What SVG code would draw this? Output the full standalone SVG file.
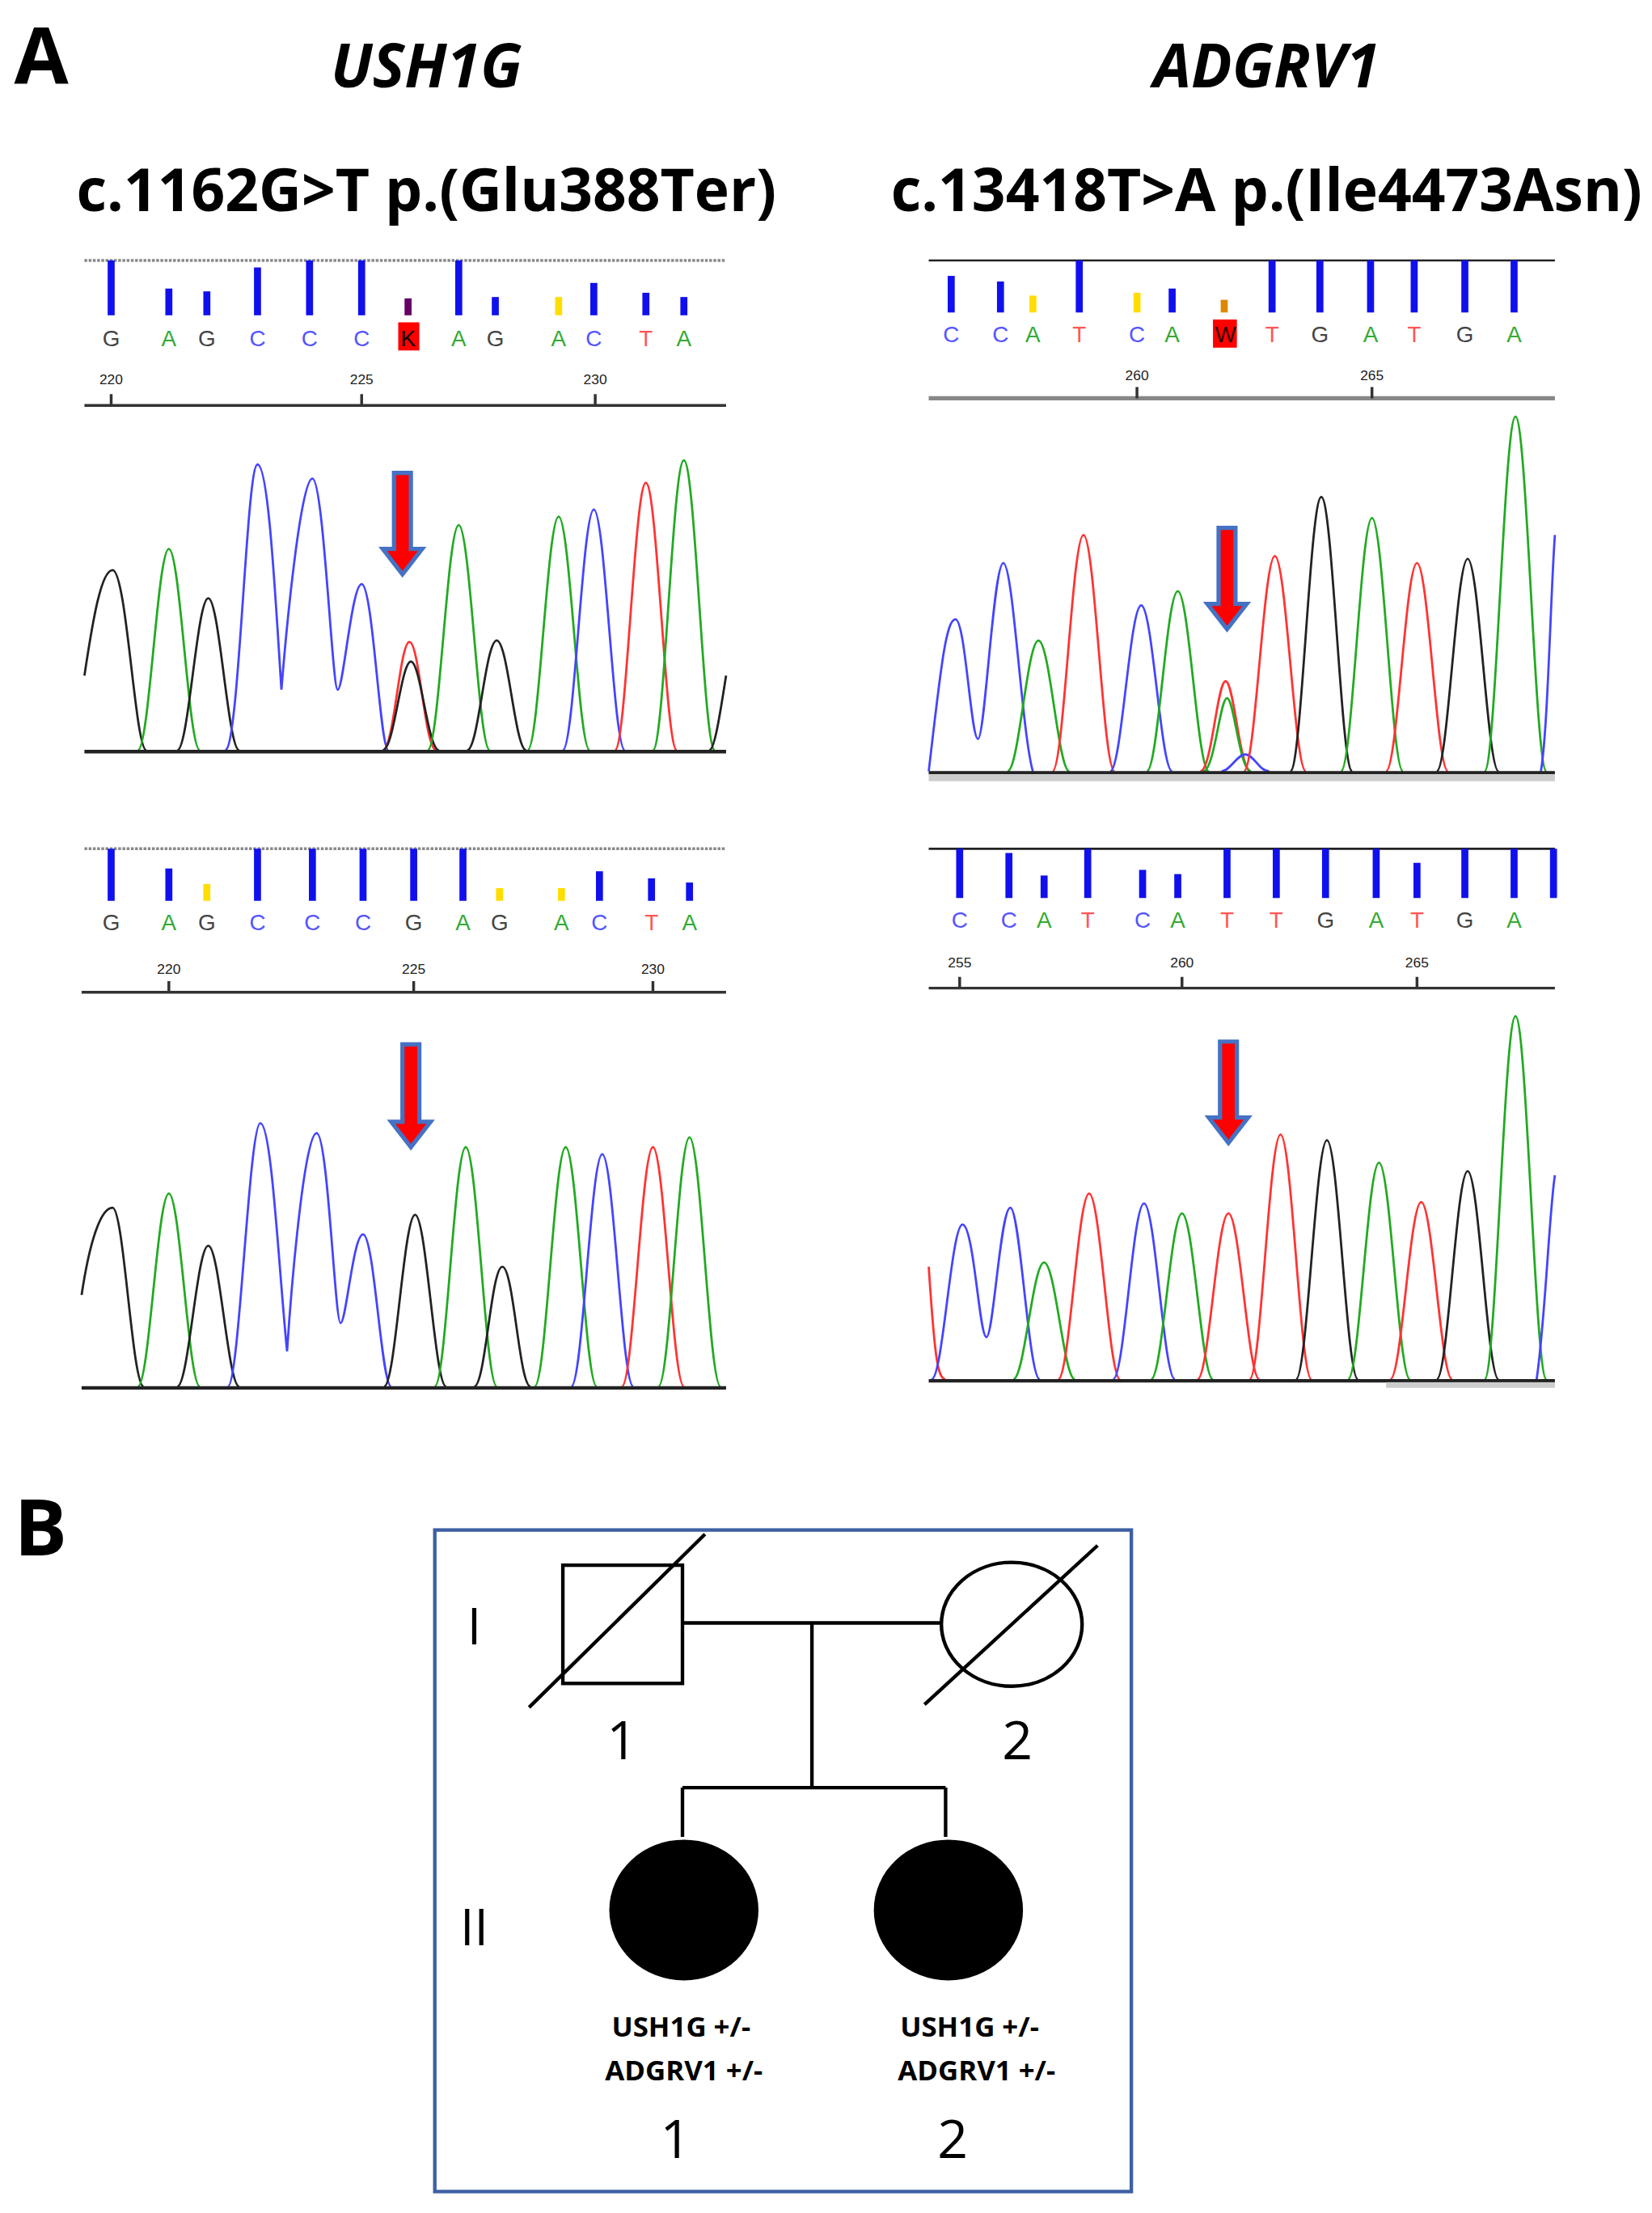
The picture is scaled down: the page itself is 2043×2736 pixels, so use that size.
<svg xmlns="http://www.w3.org/2000/svg" width="2043" height="2736" viewBox="0 0 2043 2736">
<style>
.t{font-family:"Open Sans","Liberation Sans",sans-serif}
.b{stroke:#1010ee;stroke-width:5}
.l{font-family:"Liberation Sans",sans-serif;font-size:16px;text-anchor:middle}
.n{font-family:"Liberation Sans",sans-serif;font-size:10px;text-anchor:middle;fill:#222}
.G{fill:#444}.A{fill:#3a3}.C{fill:#55f}.T{fill:#f55}
.pk{fill:none;stroke-width:1.6}
.k{stroke:#222}.g{stroke:#2a2}.u{stroke:#44f}.r{stroke:#f33}
.ar{fill:#f00;stroke:#4472c4;stroke-width:3}
.ax{stroke:#333;stroke-width:2;fill:none}
</style>
<rect width="2043" height="2736" fill="#fff"/>
<g transform="scale(1.7402)">
<g id="labels" class="t" font-weight="bold">
<text x="10" y="60" font-size="56">A</text>
<text x="10" y="1105" font-size="56">B</text>
<text x="303" y="62" font-size="43" font-style="italic" text-anchor="middle">USH1G</text>
<text x="900" y="62" font-size="43" font-style="italic" text-anchor="middle">ADGRV1</text>
<text x="303" y="150" font-size="42" text-anchor="middle">c.1162G&gt;T p.(Glu388Ter)</text>
<text x="900" y="150" font-size="42" text-anchor="middle">c.13418T&gt;A p.(Ile4473Asn)</text>
</g>
<!-- top-left -->
<g id="tl">
<line x1="60" y1="185" x2="516" y2="185" stroke="#888" stroke-width="2" stroke-dasharray="2 1"/>
<g class="b"><line x1="79" y1="185" x2="79" y2="224"/><line x1="120" y1="205" x2="120" y2="224"/><line x1="147" y1="207" x2="147" y2="224"/><line x1="183" y1="190" x2="183" y2="224"/><line x1="220" y1="185" x2="220" y2="224"/><line x1="257" y1="185" x2="257" y2="224"/><line x1="290" y1="212" x2="290" y2="224" stroke="#606"/><line x1="326" y1="185" x2="326" y2="224"/><line x1="352" y1="211" x2="352" y2="224"/><line x1="397" y1="211" x2="397" y2="224" stroke="#fd0"/><line x1="422" y1="201" x2="422" y2="224"/><line x1="459" y1="208" x2="459" y2="224"/><line x1="486" y1="211" x2="486" y2="224"/></g>
<rect x="283" y="229" width="15" height="20" fill="#f00"/>
<g class="l"><text x="79" y="246" class="G">G</text><text x="120" y="246" class="A">A</text><text x="147" y="246" class="G">G</text><text x="183" y="246" class="C">C</text><text x="220" y="246" class="C">C</text><text x="257" y="246" class="C">C</text><text x="290" y="246" fill="#000">K</text><text x="326" y="246" class="A">A</text><text x="352" y="246" class="G">G</text><text x="397" y="246" class="A">A</text><text x="422" y="246" class="C">C</text><text x="459" y="246" class="T">T</text><text x="486" y="246" class="A">A</text></g>
<g class="n"><text x="79" y="273">220</text><text x="257" y="273">225</text><text x="423" y="273">230</text></g>
<path class="ax" d="M60 288H516M79 280V288M257 280V288M423 280V288"/>
<g>
<path class="pk k" d="M60 480C66 440 72 405 80 405C90 405 96 533 104 533"/>
<path class="pk g" d="M98 533C106 533 112 390 120 390C128 390 134 533 142 533"/>
<path class="pk k" d="M126 533C134 533 140 425 148 425C156 425 162 533 170 533"/>
<path class="pk u" d="M160 533C170 533 175 330 183 330C191 330 196 430 200 490C204 440 214 340 222 340C230 340 236 490 240 490C244 490 250 415 257 415C265 415 270 533 276 533"/>
<path class="pk r" d="M272 533C280 533 284 456 291 456C298 456 302 533 310 533"/>
<path class="pk k" d="M272 533C280 533 285 470 292 470C299 470 304 533 312 533"/>
<path class="pk g" d="M304 533C312 533 318 373 326 373C334 373 340 533 348 533"/>
<path class="pk k" d="M332 533C340 533 345 455 353 455C361 455 366 533 374 533"/>
<path class="pk g" d="M375 533C383 533 389 367 397 367C405 367 411 533 419 533"/>
<path class="pk u" d="M400 533C408 533 414 362 422 362C430 362 436 533 444 533"/>
<path class="pk r" d="M437 533C445 533 451 343 459 343C467 343 473 533 481 533"/>
<path class="pk g" d="M464 533C472 533 478 327 486 327C494 327 500 533 508 533"/>
<path class="pk k" d="M504 533C508 533 512 505 516 480"/>
<line x1="60" y1="534" x2="516" y2="534" stroke="#222" stroke-width="2.5"/>
</g>
<polygon class="ar" points="280,336 292,336 292,390 300,390 286,408 272,390 280,390"/>
</g>
<!-- bottom-left -->
<g id="bl">
<line x1="60" y1="603" x2="516" y2="603" stroke="#888" stroke-width="2" stroke-dasharray="2 1"/>
<g class="b"><line x1="79" y1="603" x2="79" y2="640"/><line x1="120" y1="617" x2="120" y2="640"/><line x1="147" y1="628" x2="147" y2="640" stroke="#fd0"/><line x1="183" y1="603" x2="183" y2="640"/><line x1="222" y1="603" x2="222" y2="640"/><line x1="258" y1="603" x2="258" y2="640"/><line x1="294" y1="603" x2="294" y2="640"/><line x1="329" y1="603" x2="329" y2="640"/><line x1="355" y1="631" x2="355" y2="640" stroke="#fd0"/><line x1="399" y1="631" x2="399" y2="640" stroke="#fd0"/><line x1="426" y1="619" x2="426" y2="640"/><line x1="463" y1="624" x2="463" y2="640"/><line x1="490" y1="627" x2="490" y2="640"/></g>
<g class="l"><text x="79" y="661" class="G">G</text><text x="120" y="661" class="A">A</text><text x="147" y="661" class="G">G</text><text x="183" y="661" class="C">C</text><text x="222" y="661" class="C">C</text><text x="258" y="661" class="C">C</text><text x="294" y="661" class="G">G</text><text x="329" y="661" class="A">A</text><text x="355" y="661" class="G">G</text><text x="399" y="661" class="A">A</text><text x="426" y="661" class="C">C</text><text x="463" y="661" class="T">T</text><text x="490" y="661" class="A">A</text></g>
<g class="n"><text x="120" y="692">220</text><text x="294" y="692">225</text><text x="464" y="692">230</text></g>
<path class="ax" d="M58 705H516M120 697V705M294 697V705M464 697V705"/>
<g>
<path class="pk k" d="M58 920C64 880 72 858 80 858C88 858 94 985 102 985"/>
<path class="pk g" d="M98 985C106 985 112 848 120 848C128 848 134 985 142 985"/>
<path class="pk k" d="M126 985C134 985 140 885 148 885C156 885 162 985 170 985"/>
<path class="pk u" d="M162 985C170 985 177 798 185 798C193 798 198 900 204 960C208 900 217 805 225 805C233 805 238 940 242 940C246 940 251 877 258 877C266 877 271 985 278 985"/>
<path class="pk k" d="M273 985C281 985 287 863 295 863C303 863 309 985 317 985"/>
<path class="pk g" d="M309 985C317 985 323 815 331 815C339 815 345 985 353 985"/>
<path class="pk k" d="M337 985C345 985 349 900 357 900C365 900 369 985 377 985"/>
<path class="pk g" d="M380 985C388 985 394 815 402 815C410 815 416 985 424 985"/>
<path class="pk u" d="M406 985C414 985 420 820 428 820C436 820 442 985 450 985"/>
<path class="pk r" d="M442 985C450 985 456 815 464 815C472 815 478 985 486 985"/>
<path class="pk g" d="M468 985C476 985 482 808 490 808C498 808 504 985 512 985"/>
<line x1="58" y1="986" x2="516" y2="986" stroke="#222" stroke-width="2.5"/>
</g>
<polygon class="ar" points="286,742 298,742 298,797 306,797 292,815 278,797 286,797"/>
</g>
<!-- top-right -->
<g id="tr">
<line x1="660" y1="185" x2="1105" y2="185" stroke="#222" stroke-width="1.5"/>
<g class="b"><line x1="676" y1="196" x2="676" y2="222"/><line x1="711" y1="200" x2="711" y2="222"/><line x1="734" y1="210" x2="734" y2="222" stroke="#fd0"/><line x1="767" y1="185" x2="767" y2="222"/><line x1="808" y1="208" x2="808" y2="222" stroke="#fd0"/><line x1="833" y1="205" x2="833" y2="222"/><line x1="870" y1="213" x2="870" y2="222" stroke="#d80"/><line x1="904" y1="185" x2="904" y2="222"/><line x1="938" y1="185" x2="938" y2="222"/><line x1="974" y1="185" x2="974" y2="222"/><line x1="1005" y1="185" x2="1005" y2="222"/><line x1="1041" y1="185" x2="1041" y2="222"/><line x1="1076" y1="185" x2="1076" y2="222"/></g>
<rect x="862" y="227" width="17" height="20" fill="#f00"/>
<g class="l"><text x="676" y="243" class="C">C</text><text x="711" y="243" class="C">C</text><text x="734" y="243" class="A">A</text><text x="767" y="243" class="T">T</text><text x="808" y="243" class="C">C</text><text x="833" y="243" class="A">A</text><text x="871" y="243" fill="#300">W</text><text x="904" y="243" class="T">T</text><text x="938" y="243" class="G">G</text><text x="974" y="243" class="A">A</text><text x="1005" y="243" class="T">T</text><text x="1041" y="243" class="G">G</text><text x="1076" y="243" class="A">A</text></g>
<g class="n"><text x="808" y="270">260</text><text x="975" y="270">265</text></g>
<path d="M660 283H1105" stroke="#888" stroke-width="3"/><path class="ax" d="M808 275V283M975 275V283"/>
<g>
<path class="pk u" d="M660 548C668 480 672 440 679 440C686 440 690 525 695 525C700 525 706 400 713 400C720 400 726 520 734 548"/>
<path class="pk g" d="M716 548C724 548 730 455 738 455C746 455 752 548 760 548"/>
<path class="pk r" d="M748 548C756 548 762 380 770 380C778 380 784 548 792 548"/>
<path class="pk u" d="M789 548C797 548 803 430 811 430C819 430 825 548 833 548"/>
<path class="pk g" d="M815 548C823 548 829 420 837 420C845 420 851 548 859 548"/>
<path class="pk r" d="M853 548C861 548 865 484 871 484C877 484 881 548 889 548"/>
<path class="pk g" d="M855 548C863 548 867 496 872 496C877 496 881 548 889 548"/>
<path class="pk u" d="M868 548C874 548 879 536 885 536C891 536 895 548 902 548"/>
<path class="pk r" d="M884 548C892 548 898 395 906 395C914 395 920 548 928 548"/>
<path class="pk k" d="M917 548C925 548 931 353 939 353C947 353 953 548 961 548"/>
<path class="pk g" d="M953 548C961 548 967 368 975 368C983 368 989 548 997 548"/>
<path class="pk r" d="M985 548C993 548 999 400 1007 400C1015 400 1021 548 1029 548"/>
<path class="pk k" d="M1021 548C1029 548 1035 397 1043 397C1051 397 1057 548 1065 548"/>
<path class="pk g" d="M1055 548C1063 548 1069 296 1077 296C1085 296 1091 548 1099 548"/>
<path class="pk u" d="M1095 548C1100 520 1102 420 1105 380"/>
<line x1="660" y1="549" x2="1105" y2="549" stroke="#222" stroke-width="2.5"/>
<rect x="660" y="550" width="445" height="5" fill="#ccc"/>
</g>
<polygon class="ar" points="866,375 878,375 878,429 886,429 872,447 858,429 866,429"/>
</g>
<!-- bottom-right -->
<g id="br">
<line x1="660" y1="603" x2="1105" y2="603" stroke="#222" stroke-width="1.5"/>
<g class="b"><line x1="682" y1="603" x2="682" y2="638"/><line x1="717" y1="606" x2="717" y2="638"/><line x1="742" y1="622" x2="742" y2="638"/><line x1="773" y1="603" x2="773" y2="638"/><line x1="812" y1="618" x2="812" y2="638"/><line x1="837" y1="621" x2="837" y2="638"/><line x1="872" y1="603" x2="872" y2="638"/><line x1="907" y1="603" x2="907" y2="638"/><line x1="942" y1="603" x2="942" y2="638"/><line x1="978" y1="603" x2="978" y2="638"/><line x1="1007" y1="613" x2="1007" y2="638"/><line x1="1041" y1="603" x2="1041" y2="638"/><line x1="1076" y1="603" x2="1076" y2="638"/><line x1="1104" y1="603" x2="1104" y2="638"/></g>
<g class="l"><text x="682" y="659" class="C">C</text><text x="717" y="659" class="C">C</text><text x="742" y="659" class="A">A</text><text x="773" y="659" class="T">T</text><text x="812" y="659" class="C">C</text><text x="837" y="659" class="A">A</text><text x="872" y="659" class="T">T</text><text x="907" y="659" class="T">T</text><text x="942" y="659" class="G">G</text><text x="978" y="659" class="A">A</text><text x="1007" y="659" class="T">T</text><text x="1041" y="659" class="G">G</text><text x="1076" y="659" class="A">A</text></g>
<g class="n"><text x="682" y="687">255</text><text x="840" y="687">260</text><text x="1007" y="687">265</text></g>
<path class="ax" d="M660 702H1105M682 694V702M840 694V702M1007 694V702"/>
<g>
<path class="pk r" d="M660 900C664 960 666 980 672 980"/>
<path class="pk u" d="M662 980C670 980 676 870 684 870C692 870 696 950 701 950C706 950 711 858 718 858C725 858 731 980 739 980"/>
<path class="pk g" d="M720 980C728 980 734 897 742 897C750 897 756 980 764 980"/>
<path class="pk r" d="M752 980C760 980 766 848 774 848C782 848 788 980 796 980"/>
<path class="pk u" d="M791 980C799 980 805 855 813 855C821 855 827 980 835 980"/>
<path class="pk g" d="M818 980C826 980 832 862 840 862C848 862 854 980 862 980"/>
<path class="pk r" d="M851 980C859 980 865 862 873 862C881 862 887 980 895 980"/>
<path class="pk r" d="M888 980C896 980 902 806 910 806C918 806 924 980 932 980"/>
<path class="pk k" d="M921 980C929 980 935 810 943 810C951 810 957 980 965 980"/>
<path class="pk g" d="M958 980C966 980 972 826 980 826C988 826 994 980 1002 980"/>
<path class="pk r" d="M988 980C996 980 1002 854 1010 854C1018 854 1024 980 1032 980"/>
<path class="pk k" d="M1021 980C1029 980 1035 832 1043 832C1051 832 1057 980 1065 980"/>
<path class="pk g" d="M1055 980C1063 980 1069 722 1077 722C1085 722 1091 980 1099 980"/>
<path class="pk u" d="M1092 980C1098 940 1101 860 1105 835"/>
<line x1="660" y1="981" x2="1105" y2="981" stroke="#222" stroke-width="2.5"/>
<rect x="985" y="982" width="120" height="4" fill="#ccc"/>
</g>
<polygon class="ar" points="867,740 879,740 879,794 887,794 873,812 859,794 867,794"/>
</g>
<!-- pedigree -->
<g id="pedbox"><rect x="309" y="1087" width="495" height="470" fill="none" stroke="#3d5fa3" stroke-width="2.5"/></g>
<g id="gen" class="t" font-size="36"><text x="337" y="1168" text-anchor="middle">I</text><text x="337" y="1382" text-anchor="middle">II</text></g>
<g id="connectors" stroke="#000" stroke-width="2.5" fill="none">
<path d="M485 1153H669M577 1153V1270M485 1270H672M485 1270V1305M672 1270V1305"/>
</g>
<g id="I1"><rect x="400" y="1112" width="85" height="84" fill="#fff" stroke="#000" stroke-width="2.5"/><line x1="376" y1="1213" x2="501" y2="1090" stroke="#000" stroke-width="2.5"/><text x="442" y="1250" class="t" font-size="38" text-anchor="middle">1</text></g>
<g id="I2"><ellipse cx="719" cy="1154" rx="50" ry="44" fill="#fff" stroke="#000" stroke-width="2.5"/><line x1="657" y1="1211" x2="780" y2="1098" stroke="#000" stroke-width="2.5"/><text x="723" y="1250" class="t" font-size="38" text-anchor="middle">2</text></g>
<g id="II1"><ellipse cx="486" cy="1357" rx="53" ry="50" fill="#000"/><text class="t" font-size="20" font-weight="bold" text-anchor="middle"><tspan x="484" y="1447">USH1G +/-</tspan><tspan x="486" y="1478">ADGRV1 +/-</tspan></text><text x="480" y="1533" class="t" font-size="38" text-anchor="middle">1</text></g>
<g id="II2"><ellipse cx="674" cy="1357" rx="53" ry="50" fill="#000"/><text class="t" font-size="20" font-weight="bold" text-anchor="middle"><tspan x="689" y="1447">USH1G +/-</tspan><tspan x="694" y="1478">ADGRV1 +/-</tspan></text><text x="677" y="1533" class="t" font-size="38" text-anchor="middle">2</text></g>
</g>
</svg>
